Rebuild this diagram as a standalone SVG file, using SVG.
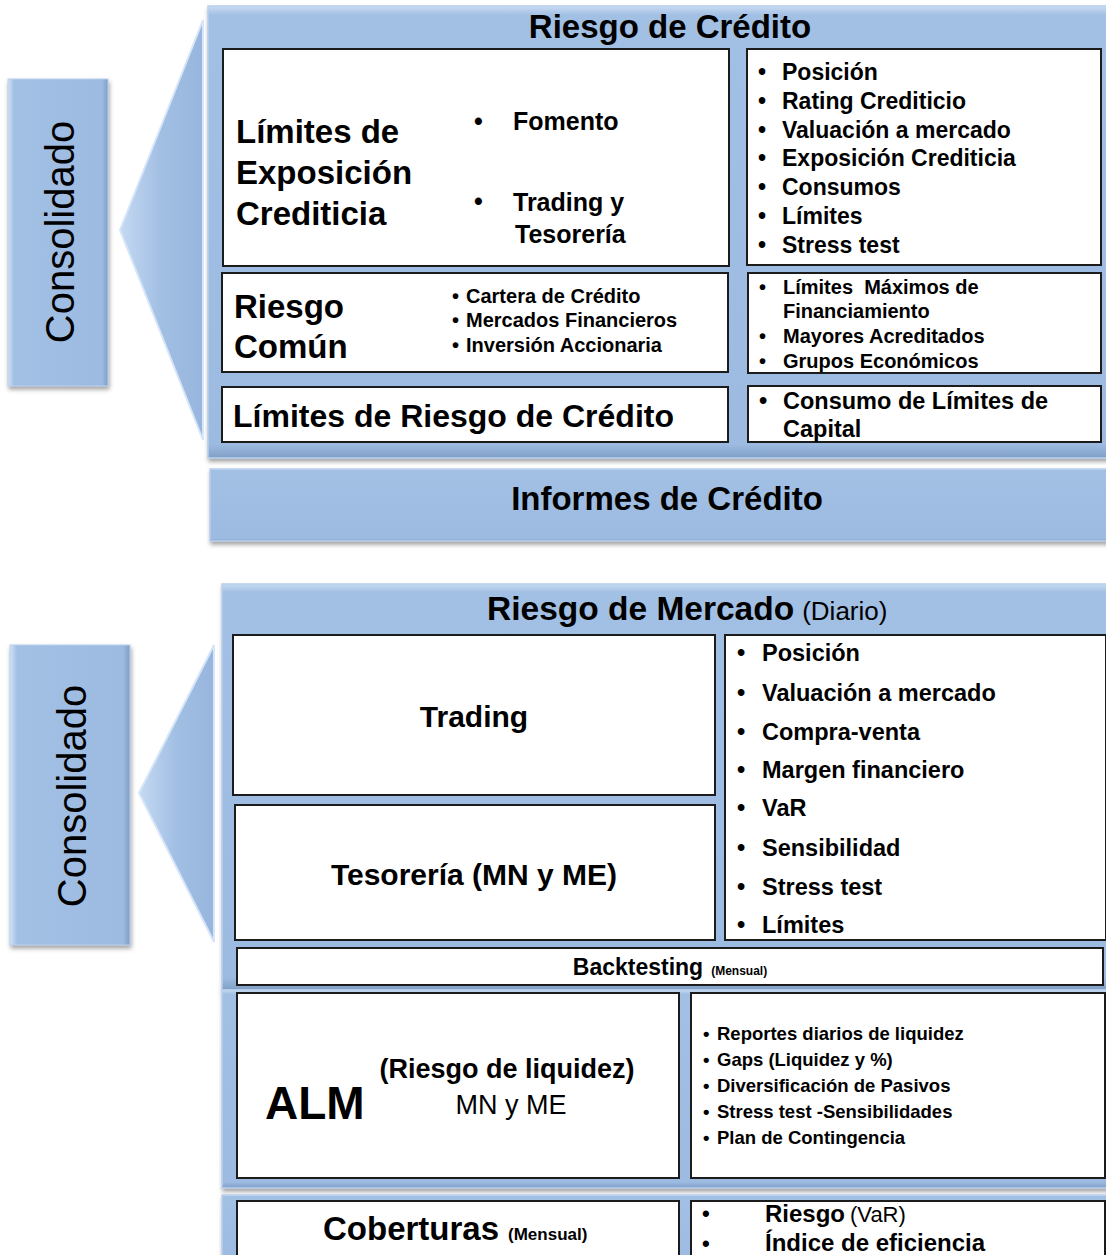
<svg xmlns="http://www.w3.org/2000/svg" width="1106" height="1255" viewBox="0 0 1106 1255">
<defs>
  <filter id="sh" x="-5%" y="-5%" width="115%" height="120%">
    <feDropShadow dx="1" dy="3" stdDeviation="2" flood-color="#555" flood-opacity="0.55"/>
  </filter>
  <linearGradient id="bevelV" x1="0" y1="0" x2="0" y2="1">
    <stop offset="0" stop-color="#C9DCF3"/>
    <stop offset="0.02" stop-color="#A2BFE4"/>
    <stop offset="0.97" stop-color="#9DBBE1"/>
    <stop offset="1" stop-color="#809FC6"/>
  </linearGradient>
  <linearGradient id="bevelH" x1="0" y1="0" x2="1" y2="0">
    <stop offset="0" stop-color="#D2E3F6"/>
    <stop offset="0.06" stop-color="#A2BFE4"/>
    <stop offset="0.94" stop-color="#9DBBE1"/>
    <stop offset="1" stop-color="#7F9EC5"/>
  </linearGradient>
  <linearGradient id="tri" x1="0" y1="0" x2="1" y2="0">
    <stop offset="0" stop-color="#C5DAF2"/>
    <stop offset="0.5" stop-color="#A1BEE3"/>
    <stop offset="1" stop-color="#98B6DD"/>
  </linearGradient>
</defs>
<style>
  text { font-family: "Liberation Sans", Arial, sans-serif; fill: #000; }
  .b { font-weight: bold; }
  .panel { fill: url(#bevelV); stroke: #B9D0EC; stroke-width: 1.5; filter: url(#sh); }
  .cons { fill: url(#bevelH); stroke: #B9D0EC; stroke-width: 1; filter: url(#sh); }
  .tri { fill: url(#tri); stroke: #D6E6F8; stroke-width: 2; stroke-linejoin: miter; }
  .box { fill: #fff; stroke: #1c1c1c; stroke-width: 2; }
</style>

<!-- ============ CREDIT SECTION ============ -->
<g id="panel-riesgo-credito">
  <rect class="panel" x="208" y="6" width="905" height="452"/>
  <text class="b" x="670" y="38" font-size="33" text-anchor="middle">Riesgo de Crédito</text>
</g>

<g id="consolidado-1">
  <rect class="cons" x="8" y="79" width="100" height="307"/>
  <text x="0" y="0" font-size="40" text-anchor="middle" dominant-baseline="central" transform="translate(60,232) rotate(-90)">Consolidado</text>
</g>

<g id="callouts">
  <polygon class="tri" points="120,230 203,20 203,440"/>
  <polygon class="tri" points="139,793 214,645 214,942"/>
</g>

<g id="connectors"></g>

<g id="limites-exposicion">
  <rect class="box" x="223" y="49" width="506" height="217"/>
  <text class="b" font-size="33" x="236" y="143">Límites de</text>
  <text class="b" font-size="33" x="236" y="184">Exposición</text>
  <text class="b" font-size="33" x="236" y="225">Crediticia</text>
  <text class="b" font-size="25" x="474" y="130">•</text>
  <text class="b" font-size="25" x="513" y="130">Fomento</text>
  <text class="b" font-size="25" x="474" y="210">•</text>
  <text class="b" font-size="25" x="513" y="211">Trading y</text>
  <text class="b" font-size="25" x="515" y="243">Tesorería</text>
</g>

<g id="lista-exposicion">
  <rect class="box" x="747" y="49" width="354" height="216"/>
  <g class="b" font-size="23">
    <text x="758" y="80">•</text><text x="782" y="80">Posición</text>
    <text x="758" y="109">•</text><text x="782" y="109">Rating Crediticio</text>
    <text x="758" y="138">•</text><text x="782" y="138">Valuación a mercado</text>
    <text x="758" y="166">•</text><text x="782" y="166">Exposición Crediticia</text>
    <text x="758" y="195">•</text><text x="782" y="195">Consumos</text>
    <text x="758" y="224">•</text><text x="782" y="224">Límites</text>
    <text x="758" y="253">•</text><text x="782" y="253">Stress test</text>
  </g>
</g>

<g id="riesgo-comun">
  <rect class="box" x="222" y="273" width="506" height="99"/>
  <text class="b" font-size="33" x="234" y="318">Riesgo</text>
  <text class="b" font-size="33" x="234" y="358">Común</text>
  <g class="b" font-size="20">
    <text x="452" y="303">•</text><text x="466" y="303">Cartera de Crédito</text>
    <text x="452" y="327">•</text><text x="466" y="327">Mercados Financieros</text>
    <text x="452" y="352">•</text><text x="466" y="352">Inversión Accionaria</text>
  </g>
</g>

<g id="lista-comun">
  <rect class="box" x="748" y="273" width="353" height="100"/>
  <g class="b" font-size="20">
    <text x="759" y="294">•</text><text x="783" y="294" xml:space="preserve">Límites  Máximos de</text>
    <text x="783" y="318">Financiamiento</text>
    <text x="759" y="343">•</text><text x="783" y="343">Mayores Acreditados</text>
    <text x="759" y="368">•</text><text x="783" y="368">Grupos Económicos</text>
  </g>
</g>

<g id="limites-riesgo-credito">
  <rect class="box" x="222" y="387" width="506" height="55"/>
  <text class="b" font-size="32" x="233" y="427">Límites de Riesgo de Crédito</text>
</g>

<g id="lista-limites">
  <rect class="box" x="748" y="386" width="353" height="56"/>
  <text class="b" font-size="23.5" x="759" y="409">•</text>
  <text class="b" font-size="23.5" x="783" y="409">Consumo de Límites de</text>
  <text class="b" font-size="23.5" x="783" y="437">Capital</text>
</g>

<g id="informes-credito">
  <rect class="panel" x="210" y="469" width="902" height="72"/>
  <text class="b" x="667" y="510" font-size="33" text-anchor="middle">Informes de Crédito</text>
</g>

<!-- ============ MARKET SECTION ============ -->
<g id="panel-riesgo-mercado">
  <rect class="panel" x="222" y="584" width="892" height="406"/>
  <text x="487" y="620"><tspan class="b" font-size="33.5">Riesgo de Mercado</tspan><tspan font-size="26" dx="8">(Diario)</tspan></text>
</g>

<g id="consolidado-2">
  <rect class="cons" x="10" y="645" width="120" height="300"/>
  <text x="0" y="0" font-size="40" text-anchor="middle" dominant-baseline="central" transform="translate(72,796) rotate(-90)">Consolidado</text>
</g>

<g id="trading">
  <rect class="box" x="233" y="635" width="482" height="160"/>
  <text class="b" font-size="30" x="474" y="727" text-anchor="middle">Trading</text>
</g>

<g id="tesoreria">
  <rect class="box" x="235" y="805" width="480" height="135"/>
  <text class="b" font-size="30" x="474" y="885" text-anchor="middle">Tesorería (MN y ME)</text>
</g>

<g id="lista-mercado">
  <rect class="box" x="725" y="635" width="381" height="305"/>
  <g class="b" font-size="23.5">
    <text x="737" y="661">•</text><text x="762" y="661">Posición</text>
    <text x="737" y="701">•</text><text x="762" y="701">Valuación a mercado</text>
    <text x="737" y="740">•</text><text x="762" y="740">Compra-venta</text>
    <text x="737" y="778">•</text><text x="762" y="778">Margen financiero</text>
    <text x="737" y="816">•</text><text x="762" y="816">VaR</text>
    <text x="737" y="856">•</text><text x="762" y="856">Sensibilidad</text>
    <text x="737" y="895">•</text><text x="762" y="895">Stress test</text>
    <text x="737" y="933">•</text><text x="762" y="933">Límites</text>
  </g>
</g>

<g id="backtesting">
  <rect class="box" x="237" y="948" width="866" height="37"/>
  <text x="670" y="975" text-anchor="middle"><tspan class="b" font-size="23">Backtesting</tspan><tspan class="b" font-size="12" dx="8">(Mensual)</tspan></text>
</g>

<g id="panel-alm">
  <rect class="panel" x="222" y="990" width="892" height="198"/>
</g>

<g id="alm">
  <rect class="box" x="237" y="993" width="442" height="185"/>
  <text class="b" font-size="46" x="265" y="1119">ALM</text>
  <text class="b" font-size="27" x="507" y="1078" text-anchor="middle">(Riesgo de liquidez)</text>
  <text font-size="27" x="511" y="1114" text-anchor="middle">MN y ME</text>
</g>

<g id="lista-alm">
  <rect class="box" x="691" y="993" width="414" height="185"/>
  <g class="b" font-size="18.5">
    <text x="703" y="1040">•</text><text x="717" y="1040">Reportes diarios de liquidez</text>
    <text x="703" y="1066">•</text><text x="717" y="1066">Gaps (Liquidez y %)</text>
    <text x="703" y="1092">•</text><text x="717" y="1092">Diversificación de Pasivos</text>
    <text x="703" y="1118">•</text><text x="717" y="1118">Stress test -Sensibilidades</text>
    <text x="703" y="1144">•</text><text x="717" y="1144">Plan de Contingencia</text>
  </g>
</g>

<g id="panel-coberturas">
  <rect class="panel" x="222" y="1195" width="892" height="75"/>
</g>

<g id="coberturas">
  <rect class="box" x="237" y="1201" width="442" height="60"/>
  <text x="323" y="1240"><tspan class="b" font-size="33">Coberturas</tspan><tspan class="b" font-size="17" dx="9">(Mensual)</tspan></text>
</g>

<g id="lista-coberturas">
  <rect class="box" x="691" y="1201" width="414" height="60"/>
  <text class="b" font-size="22" x="702" y="1221">•</text>
  <text x="765" y="1222"><tspan class="b" font-size="24">Riesgo</tspan><tspan font-size="22" dx="5">(VaR)</tspan></text>
  <text class="b" font-size="22" x="702" y="1251">•</text>
  <text class="b" font-size="24" x="765" y="1251">Índice de eficiencia</text>
</g>
</svg>
